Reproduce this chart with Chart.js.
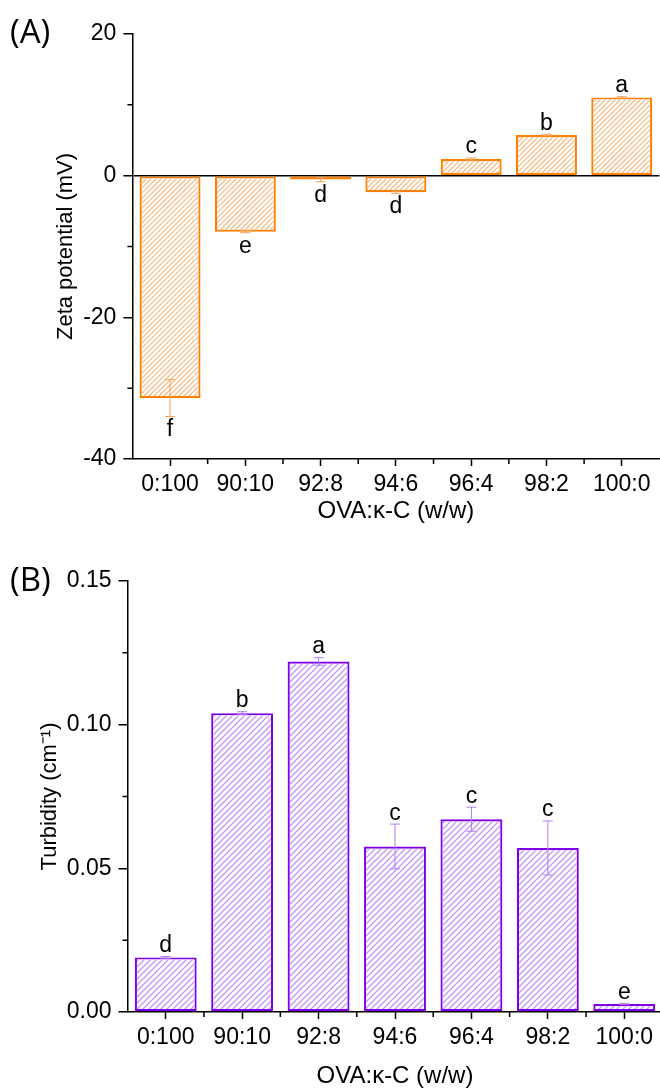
<!DOCTYPE html>
<html><head><meta charset="utf-8">
<script src="https://cdn.jsdelivr.net/npm/chart.js@4/dist/chart.umd.min.js"></script>
<style>
html,body{margin:0;padding:0;background:#fff;overflow:hidden;width:660px;height:1088px;}
#wrap{position:relative;width:660px;height:1088px;overflow:hidden;background:#fff;}
canvas{position:absolute;left:0;display:block;}
</style></head><body>
<div id="wrap">
<canvas id="c1" width="660" height="540" style="top:0"></canvas>
<canvas id="c2" width="664" height="548" style="top:540px"></canvas>
</div>
<script>
// ---- data ----
const categories = ['0:100','90:10','92:8','94:6','96:4','98:2','100:0'];
const zetaValues = [-31.4, -7.9, -0.55, -2.35, 2.35, 5.75, 11.05];
const zetaErrors = [2.6, 0.15, 0.3, 0.15, 0.15, 0.1, 0.1];
const zetaLetters = ['f','e','d','d','c','b','a'];
const zetaTicks = [-40, -20, 0, 20];
const zetaMinorTicks = [-30, -10, 10];

const turbValues = [0.0190, 0.1040, 0.1220, 0.0576, 0.0671, 0.0571, 0.0028];
const turbErrors = [0.0003, 0.0005, 0.0013, 0.0078, 0.0042, 0.0094, 0.0002];
const turbLetters = ['d','b','a','c','c','c','e'];
const turbTicks = [0, 0.05, 0.10, 0.15];
const turbMinorTicks = [0.025, 0.075, 0.125];

const FONT = '"Liberation Sans", Arial, sans-serif';
const BW = 2.2;

// hatching inside each bar element (geometry taken from Chart.js bar elements)
const hatchPlugin = {
  id: 'hatchFill',
  afterDatasetsDraw(chart, args, o){
    const ctx = chart.ctx;
    const meta = chart.getDatasetMeta(0);
    ctx.save();
    ctx.strokeStyle = o.stroke; ctx.lineWidth = o.lw;
    meta.data.forEach(el => {
      const p = el.getProps(['x','y','base','width'], true);
      const l = p.x - p.width/2 + BW, r = p.x + p.width/2 - BW;
      const t = Math.min(p.y, p.base) + BW, b = Math.max(p.y, p.base) - BW;
      if (r <= l || b <= t) return;
      ctx.save();
      ctx.beginPath(); ctx.rect(l, t, r - l, b - t); ctx.clip();
      ctx.beginPath();
      const s = o.step;
      const c0 = Math.floor((l + t) / s) * s, c1 = r + b;
      for (let c = c0; c <= c1 + s; c += s) {
        ctx.moveTo(c - b - 2, b + 2); ctx.lineTo(c - t + 2, t - 2);
      }
      ctx.stroke();
      ctx.restore();
    });
    ctx.restore();
  }
};

const decor = {
  id: 'decor',
  afterDatasetsDraw(chart, args, o){
    const ctx = chart.ctx, xs = chart.scales.x, ys = chart.scales.y;
    const ca = chart.chartArea;
    ctx.save();
    o.values.forEach((v, i) => {
      const px = xs.getPixelForValue(i);
      const top = ys.getPixelForValue(v + o.errors[i]);
      const bot = ys.getPixelForValue(v - o.errors[i]);
      ctx.strokeStyle = o.errColor; ctx.lineWidth = 1;
      ctx.beginPath();
      ctx.moveTo(px, top); ctx.lineTo(px, bot);
      ctx.moveTo(px - o.cap, top); ctx.lineTo(px + o.cap, top);
      ctx.moveTo(px - o.cap, bot); ctx.lineTo(px + o.cap, bot);
      ctx.stroke();
      ctx.fillStyle = '#000'; ctx.font = '23px ' + FONT; ctx.textAlign = 'center';
      if (v >= 0) { ctx.textBaseline = 'alphabetic'; ctx.fillText(o.letters[i], px, top - 4.5); }
      else { ctx.textBaseline = 'top'; ctx.fillText(o.letters[i], px, bot + 2); }
    });
    ctx.strokeStyle = '#000'; ctx.lineWidth = 1.5;
    ctx.beginPath();
    o.minorY.forEach(v => { const py = ys.getPixelForValue(v); ctx.moveTo(ca.left - 5, py); ctx.lineTo(ca.left, py); });
    for (let i = 0; i < o.values.length - 1; i++) {
      const px = (xs.getPixelForValue(i) + xs.getPixelForValue(i + 1)) / 2;
      ctx.moveTo(px, ca.bottom); ctx.lineTo(px, ca.bottom + 5);
    }
    ctx.stroke();
    ctx.fillStyle = '#000'; ctx.font = '33px "Open Sans", sans-serif';
    ctx.textAlign = 'left'; ctx.textBaseline = 'alphabetic';
    ctx.fillText(o.panel, 10, o.panelY);
    ctx.restore();
  }
};

function makeChart(id, cfg){
  return new Chart(document.getElementById(id), {
    type: 'bar',
    data: { labels: categories, datasets: [{
      data: cfg.values,
      backgroundColor: '#ffffff', hoverBackgroundColor: '#ffffff',
      borderColor: cfg.border, hoverBorderColor: cfg.border, borderWidth: BW, borderSkipped: false,
      barPercentage: 0.81, categoryPercentage: 1
    }]},
    options: {
      responsive: false, animation: false, devicePixelRatio: 1,
      events: [],
      layout: { padding: { top: cfg.padTop, right: cfg.padRight, left: 0, bottom: 0 } },
      plugins: { legend: { display: false }, tooltip: { enabled: false },
        hatchFill: { stroke: cfg.hatchColor, step: cfg.hatchStep, lw: cfg.hatchLw },
        decor: { values: cfg.values, errors: cfg.errors, letters: cfg.letters, errColor: cfg.errColor,
                 cap: cfg.cap, minorY: cfg.minor, panel: cfg.panel, panelY: cfg.panelY } },
      scales: {
        x: {
          offset: true,
          grid: { display: true, drawOnChartArea: false, offset: false, tickLength: 7, tickColor: '#000', tickWidth: 1.5 },
          border: { display: true, color: '#000', width: 1.5 },
          ticks: { color: '#000', font: { family: FONT, size: 23 }, padding: 5, maxRotation: 0, autoSkip: false },
          title: { display: true, text: 'OVA:κ-C (w/w)', color: '#000', font: { family: FONT, size: 24, lineHeight: 1 }, padding: { top: 0, bottom: cfg.xTitlePad } },
          afterFit(s){ s.height = cfg.xHeight; }
        },
        y: {
          min: cfg.min, max: cfg.max,
          afterBuildTicks(s){ s.ticks = cfg.ticks.map(v => ({ value: v })); },
          grid: { drawOnChartArea: cfg.zeroLine, tickLength: 9, tickWidth: 1.5, tickColor: '#000', lineWidth: 1.5,
                  color: c => (c.tick && c.tick.value === 0) ? '#000' : 'rgba(0,0,0,0)' },
          border: { display: true, color: '#000', width: 1.5 },
          ticks: { color: '#000', font: { family: FONT, size: 23 }, padding: 7, callback: cfg.fmt },
          title: { display: true, text: cfg.yTitle, color: '#000', font: { family: FONT, size: 22, lineHeight: 1 }, padding: { top: cfg.yTitlePad, bottom: 0 } },
          afterFit(s){ s.width = cfg.yWidth; }
        }
      }
    },
    plugins: [hatchPlugin, decor]
  });
}

makeChart('c1', {
  values: zetaValues, errors: zetaErrors, letters: zetaLetters, ticks: zetaTicks, minor: zetaMinorTicks,
  min: -40, max: 20, hatchColor: '#FAB679', hatchStep: 5, hatchLw: 1.2, border: '#FF7F00', errColor: '#F6A25A', cap: 5,
  padTop: 34, padRight: 0.6, xHeight: 81, xTitlePad: 17, yWidth: 132.4, yTitlePad: 55,
  yTitle: 'Zeta potential (mV)', zeroLine: true, fmt: v => String(v), panel: '(A)', panelY: 43
});

makeChart('c2', {
  values: turbValues, errors: turbErrors, letters: turbLetters, ticks: turbTicks, minor: turbMinorTicks,
  min: 0, max: 0.15, hatchColor: '#C29AF8', hatchStep: 6, hatchLw: 1.4, border: '#7F00E8', errColor: '#B07CF0', cap: 5,
  padTop: 41, padRight: 1.5, xHeight: 76, xTitlePad: 0, yWidth: 127.5, yTitlePad: 39,
  yTitle: 'Turbidity (cm⁻¹)', zeroLine: false, fmt: v => Number(v).toFixed(2), panel: '(B)', panelY: 51
});
</script>
</body></html>
